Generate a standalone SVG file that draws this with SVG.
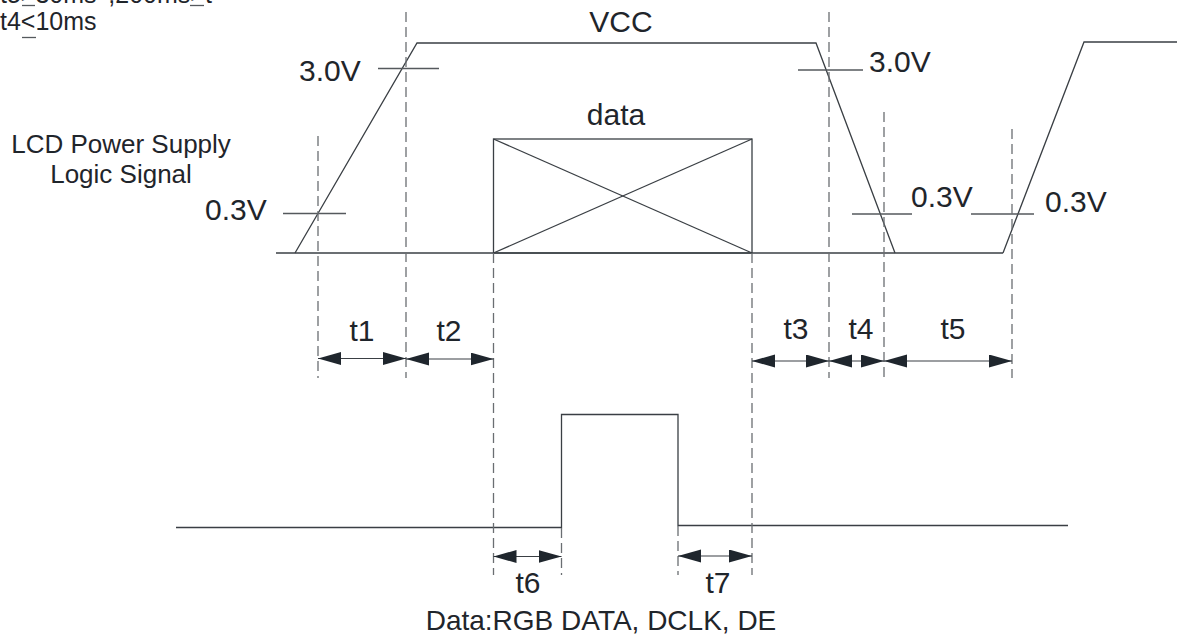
<svg xmlns="http://www.w3.org/2000/svg" width="1179" height="644" viewBox="0 0 1179 644">
<style>
.sig{fill:none;stroke:#3a3f44;stroke-width:1.3}
.tick{fill:none;stroke:#55595d;stroke-width:1.3}
.dash{fill:none;stroke:#6a6e72;stroke-width:1.3;stroke-dasharray:10 5}
.arr{fill:none;stroke:#3a3f44;stroke-width:1.2;marker-start:url(#ah);marker-end:url(#ah)}
text{font-family:"Liberation Sans",Arial,sans-serif;fill:#1f252b}
.lg{font-size:30px}
.md{font-size:26px}
.cap{font-size:28px}
.sm{font-size:25px}
</style>
<defs>
<marker id="ah" markerUnits="userSpaceOnUse" markerWidth="24" markerHeight="14" refX="23" refY="6.5" orient="auto-start-reverse">
<path d="M0,0 L23,6.5 L0,13 Z" fill="#1f262d"/>
</marker>
</defs>
<rect width="1179" height="644" fill="#ffffff"/>

<g id="note">
<text class="sm" x="0" y="3">t5&gt;30ms' ,200ms&gt;t</text>
<line class="tick" x1="22" y1="5.5" x2="35" y2="5.5"/>
<line class="tick" x1="190" y1="5.5" x2="204" y2="5.5"/>
<text class="sm" x="0" y="30">t4&lt;10ms</text>
<line class="tick" x1="22" y1="37.5" x2="36" y2="37.5"/>
</g>

<g id="vcc-signal">
<polyline class="sig" points="276,253 1003,253"/>
<polyline class="sig" points="295,253 417,43 816,43 895,253"/>
<polyline class="sig" points="1003,253 1084,42 1177,42"/>
<text class="lg" x="621" y="32" text-anchor="middle">VCC</text>
<text class="md" x="121" y="153" text-anchor="middle">LCD Power Supply</text>
<text class="md" x="121" y="183" text-anchor="middle">Logic Signal</text>
</g>

<g id="thresholds">
<line class="tick" x1="378" y1="68.5" x2="439" y2="68.5"/>
<text class="lg" x="299" y="81">3.0V</text>
<line class="tick" x1="283" y1="213.5" x2="346" y2="213.5"/>
<text class="lg" x="205" y="220">0.3V</text>
<line class="tick" x1="798" y1="70" x2="863" y2="70"/>
<text class="lg" x="869" y="72">3.0V</text>
<line class="tick" x1="852" y1="214" x2="912" y2="214"/>
<text class="lg" x="911" y="207">0.3V</text>
<line class="tick" x1="971" y1="214" x2="1034" y2="214"/>
<text class="lg" x="1045" y="212">0.3V</text>
</g>

<g id="data-box">
<rect x="493.5" y="139" width="258.5" height="114" fill="none" stroke="#3a3f44" stroke-width="1.3"/>
<line class="sig" x1="493.5" y1="139" x2="752" y2="253"/>
<line class="sig" x1="752" y1="139" x2="493.5" y2="253"/>
<text class="lg" x="616" y="125" text-anchor="middle">data</text>
</g>

<g id="data-signal">
<polyline class="sig" points="176,527.5 561.5,527.5 561.5,414.5 678,414.5 678,525.5 1068,525.5"/>
<text class="cap" x="601" y="630" text-anchor="middle">Data:RGB DATA, DCLK, DE</text>
</g>

<g id="guides">
<line class="dash" x1="318" y1="136" x2="318" y2="378"/>
<line class="dash" x1="406" y1="12" x2="406" y2="378"/>
<line class="dash" x1="493.5" y1="253" x2="493.5" y2="575"/>
<line class="dash" x1="752" y1="253" x2="752" y2="575"/>
<line class="dash" x1="829" y1="12" x2="829" y2="378"/>
<line class="dash" x1="884" y1="112" x2="884" y2="378"/>
<line class="dash" x1="1012" y1="129" x2="1012" y2="378"/>
<line class="dash" x1="561.5" y1="528" x2="561.5" y2="575"/>
<line class="dash" x1="678" y1="526" x2="678" y2="575"/>
</g>

<g id="connectors">
<line class="arr" x1="318" y1="358.5" x2="406" y2="358.5"/>
<line class="arr" x1="406" y1="359" x2="493.5" y2="359"/>
<line class="arr" x1="752" y1="361" x2="829" y2="361"/>
<line class="arr" x1="829" y1="361" x2="884" y2="361"/>
<line class="arr" x1="884" y1="361" x2="1012" y2="361"/>
<line class="arr" x1="493.5" y1="556.5" x2="561.5" y2="556.5"/>
<line class="arr" x1="678" y1="556" x2="752" y2="556"/>
</g>

<g id="labels">
<text class="lg" x="362" y="341" text-anchor="middle">t1</text>
<text class="lg" x="449" y="341" text-anchor="middle">t2</text>
<text class="lg" x="796" y="339" text-anchor="middle">t3</text>
<text class="lg" x="861" y="339" text-anchor="middle">t4</text>
<text class="lg" x="953" y="339" text-anchor="middle">t5</text>
<text class="lg" x="528" y="593" text-anchor="middle">t6</text>
<text class="lg" x="718" y="593" text-anchor="middle">t7</text>
</g>
</svg>
